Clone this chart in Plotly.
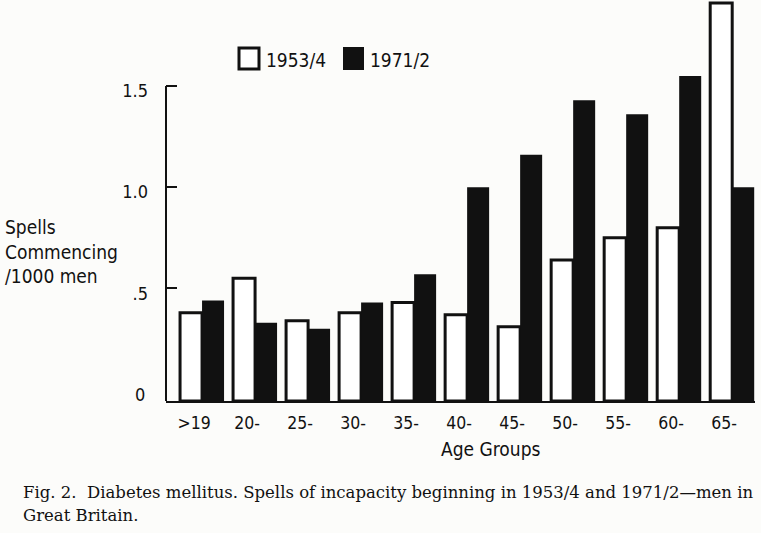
import plotly.graph_objects as go

categories = [">19", "20-", "25-", "30-", "35-", "40-", "45-", "50-", "55-", "60-", "65-"]
spells_1953 = [0.38, 0.55, 0.34, 0.38, 0.43, 0.37, 0.31, 0.64, 0.75, 0.80, 1.91]
spells_1971 = [0.44, 0.33, 0.30, 0.43, 0.57, 1.00, 1.16, 1.43, 1.36, 1.55, 1.00]
y_tickvals = [0.5, 1.0, 1.5]
y_ticktext = [".5", "1.0", "1.5"]

W, H = 761, 533
L, R, T, B = 166, 6, 0, 132
PW, PH = W - L - R, H - T - B
Y_MIN, Y_MAX = -0.0566, 1.925

def px(x):
    return (x - L) / PW

def py(y):
    return (H - B - y) / PH

SANS = "DejaVu Sans Condensed, DejaVu Sans, sans-serif"
SERIF = "DejaVu Serif, Liberation Serif, serif"
BLACK = "#111111"

x = list(range(len(categories)))
fig = go.Figure()
fig.add_trace(go.Bar(
    x=x, y=[v - Y_MIN for v in spells_1953], base=Y_MIN, name="1953/4",
    marker=dict(color="white", line=dict(color=BLACK, width=3)),
))
fig.add_trace(go.Bar(
    x=x, y=[v - Y_MIN for v in spells_1971], base=Y_MIN, name="1971/2",
    marker=dict(color=BLACK, line=dict(color=BLACK, width=0)),
))

shapes = [
    dict(type="line", xref="paper", yref="y", x0=0, x1=0, y0=Y_MIN, y1=1.5,
         line=dict(color=BLACK, width=2)),
    dict(type="rect", xref="paper", yref="paper", x0=px(239), x1=px(259), y0=py(69), y1=py(48),
         fillcolor="white", line=dict(color=BLACK, width=3)),
    dict(type="rect", xref="paper", yref="paper", x0=px(343), x1=px(364), y0=py(70), y1=py(47),
         fillcolor=BLACK, line=dict(color=BLACK, width=0)),
]

ann_font = dict(family=SANS, size=18, color=BLACK)
annotations = [
    dict(text="0", xref="paper", yref="y", x=0, y=0, xanchor="right", yanchor="middle",
         xshift=-19, yshift=-5, showarrow=False, font=ann_font),
    dict(text="Spells<br>Commencing<br>/1000 men", xref="paper", yref="paper", x=px(3), y=py(252),
         xanchor="left", yanchor="middle", align="left", showarrow=False,
         font=dict(family=SANS, size=19, color=BLACK)),
    dict(text="Age Groups", xref="paper", yref="paper", x=px(490), y=py(449),
         xanchor="center", yanchor="middle", showarrow=False,
         font=dict(family=SANS, size=19, color=BLACK)),
    dict(text="1953/4", xref="paper", yref="paper", x=px(264), y=py(60),
         xanchor="left", yanchor="middle", showarrow=False,
         font=dict(family=SANS, size=19, color=BLACK)),
    dict(text="1971/2", xref="paper", yref="paper", x=px(368), y=py(60),
         xanchor="left", yanchor="middle", showarrow=False,
         font=dict(family=SANS, size=19, color=BLACK)),
    dict(text="Fig. 2.  Diabetes mellitus. Spells of incapacity beginning in 1953/4 and 1971/2—men in",
         xref="paper", yref="paper", x=px(21), y=py(493), xanchor="left", yanchor="middle",
         showarrow=False, font=dict(family=SERIF, size=16.5, color=BLACK)),
    dict(text="Great Britain.",
         xref="paper", yref="paper", x=px(21), y=py(515), xanchor="left", yanchor="middle",
         showarrow=False, font=dict(family=SERIF, size=16.5, color=BLACK)),
]

fig.update_layout(
    width=W, height=H,
    margin=dict(l=L, r=R, t=T, b=B),
    paper_bgcolor="#fcfcfa", plot_bgcolor="#fcfcfa",
    barmode="group", bargap=0.17, bargroupgap=0,
    showlegend=False,
    shapes=shapes, annotations=annotations,
    xaxis=dict(
        range=[-0.68, 10.43], tickvals=x, ticktext=categories,
        showline=True, linecolor=BLACK, linewidth=2, showgrid=False, zeroline=False,
        ticks="", tickfont=dict(family=SANS, size=17.5, color=BLACK),
        ticklabelstandoff=5, ticklabelshift=-8,
    ),
    yaxis=dict(
        range=[Y_MIN, Y_MAX], tickvals=y_tickvals, ticktext=y_ticktext,
        showline=False, showgrid=False, zeroline=False,
        ticks="inside", ticklen=11, tickwidth=2, tickcolor=BLACK,
        tickfont=dict(family=SANS, size=18, color=BLACK),
        ticklabelstandoff=17, ticklabelshift=5,
    ),
)

fig.write_html("out.html", config={"displayModeBar": False},
               post_script="document.body.style.margin='0px';")
